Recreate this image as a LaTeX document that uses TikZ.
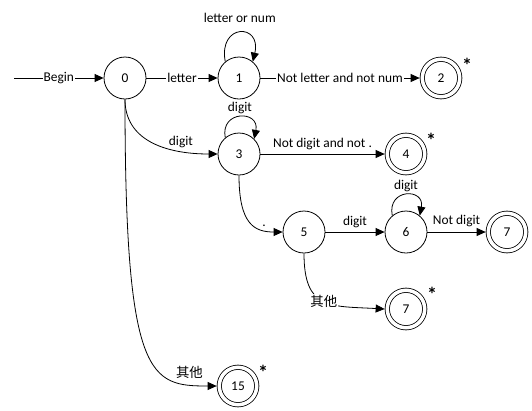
\documentclass[tikz,border=0pt]{standalone}
\usepackage{fontspec}
\setmainfont{Carlito}
\newfontfamily\cjk{Noto Sans CJK SC}
\usetikzlibrary{arrows.meta}
\begin{document}
\begin{tikzpicture}[x=1pt,y=-1pt,
  font=\fontsize{13.4}{15}\selectfont,
  >={Triangle[length=9pt,width=8pt]},
  st/.style={circle,draw,minimum size=42pt,inner sep=0pt,line width=0.8pt},
  acc/.style={circle,draw,double,double distance=3.5pt,minimum size=37.5pt,inner sep=0pt,line width=0.8pt,outer sep=2.6pt},
  e/.style={->,line width=0.8pt},
  onl/.style={fill=white,inner sep=1pt},
  lab/.style={inner sep=1pt},
  star/.style={inner sep=0pt,font=\fontsize{20}{20}\selectfont\bfseries}]
\useasboundingbox (0,0) rectangle (532,410);
% states
\node[st] (n0) at (125,78) {0};
\node[st] (n1) at (239,78) {1};
\node[acc] (n2) at (441,78) {2};
\node[st] (n3) at (239,154) {3};
\node[acc] (n4) at (406,154) {4};
\node[st] (n5) at (304,232) {5};
\node[st] (n6) at (406,232) {6};
\node[acc] (n7) at (507,232) {7};
\node[acc] (n7b) at (406,309) {7};
\node[acc] (n15) at (238,386) {15};
% asterisks
\node[star] (s2) at (467,65) {*};
\node[star] (s4) at (431,140) {*};
\node[star] (s7b) at (432,294) {*};
\node[star] (s15) at (263,372) {*};
% start
\coordinate (begin) at (14,78);
\draw[e] (begin) -- node[onl] {Begin} (n0);
% edges
\draw[e] (n0) -- node[onl] {letter} (n1);
\draw[e] (n1.130) .. controls (218,23) and (262,23) .. node[lab,above=9pt] {letter or num} (n1.50);
\draw[e] (n1) -- node[onl] {Not letter and not num} (n2);
\draw[e] (n0.south) .. controls (125,140) and (165,154) .. node[lab,pos=0.75,above=1.5pt] {digit} (n3.west);
\draw[e] (n3.130) .. controls (220,110) and (260,110) .. node[lab,above=2pt] {digit} (n3.45);
\draw[e] (n3) -- node[lab,above=2.5pt] {Not digit and not .} (n4);
\draw[e] (n3.south) .. controls (239,225) and (255,232) .. node[pos=0.75,above] {.} (n5.west);
\draw[e] (n5) -- node[lab,above=2.5pt] {digit} (n6);
\draw[e] (n6.130) .. controls (387,188) and (425,188) .. node[lab,above=2pt] {digit} (n6.50);
\draw[e] (n6) -- node[lab,above=4pt] {Not digit} (n7);
\draw[e] (n5.south) .. controls (304,310) and (330,306) .. node[onl,pos=0.5] {\cjk 其他} (n7b.west);
\draw[e] (n0.south) .. controls (125,380) and (150,386) .. node[lab,pos=0.85,above=5pt] {\cjk 其他} (n15.west);
\end{tikzpicture}
\end{document}
